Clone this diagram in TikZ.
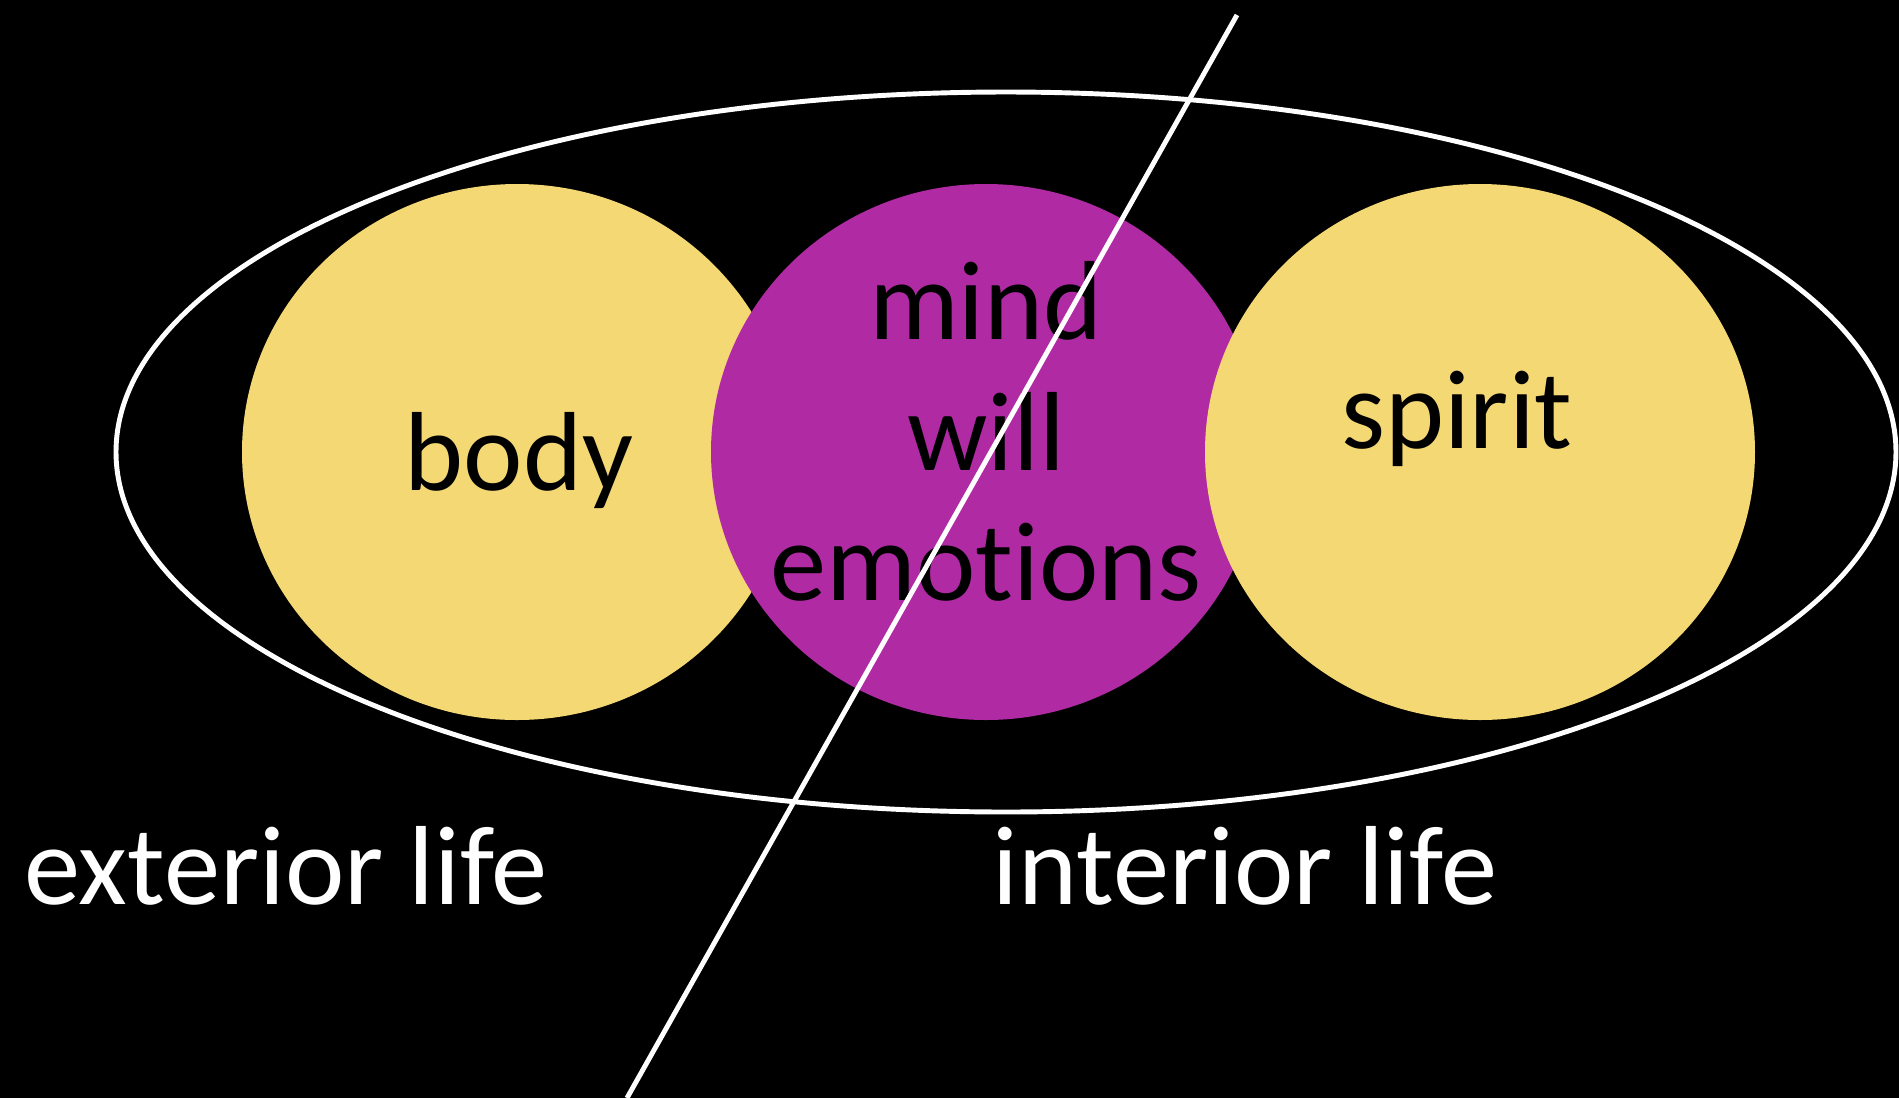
\documentclass[tikz,border=0pt]{standalone}
\usepackage{fontspec}
\setmainfont{Carlito}[Ligatures={NoCommon}]
\usepackage{tikz}
\usetikzlibrary{shapes.geometric}

\definecolor{sunyellow}{RGB}{244,216,116}
\definecolor{soulpurple}{RGB}{176,42,164}

\begin{document}
\begin{tikzpicture}[
  x=0.1mm, y=-0.1mm,
  part/.style={ellipse, inner sep=0pt,
               minimum width=55mm, minimum height=53.6mm},
  word/.style={anchor=base, inner sep=0pt, text=black,
               font=\fontsize{32}{38}\selectfont},
  side/.style={word, text=white},
  rim/.style={draw=white, line width=1.4pt}
]

\fill[black] (0,0) rectangle (1899,1098);
\useasboundingbox (0,0) rectangle (1899,1098);

\node[part, fill=sunyellow]  (body)   at (517,452)  {};
\node[part, fill=soulpurple] (mind)   at (986,452)  {};
\node[part, fill=sunyellow]  (spirit) at (1480,452) {};

\node[word] (bodytxt)   at (519,490)  {body};
\node[word] (mindtxt)   at (986,339)  {mind};
\node[word] (willtxt)   at (986,470)  {will};
\node[word] (emotxt)    at (986,600)  {emotions};
\node[word] (spirittxt) at (1457,448) {spirit};

\node[side] (extlife) at (286,904)  {exterior life};
\node[side] (intlife) at (1245,904) {interior life};

\node[ellipse, rim, inner sep=0pt,
      minimum width=178mm, minimum height=72mm] (whole) at (1006,452) {};

\coordinate (cuttop) at (1237,15);
\coordinate (cutbot) at (627,1098);
\draw[rim] (cuttop) -- (cutbot);

\end{tikzpicture}
\end{document}
